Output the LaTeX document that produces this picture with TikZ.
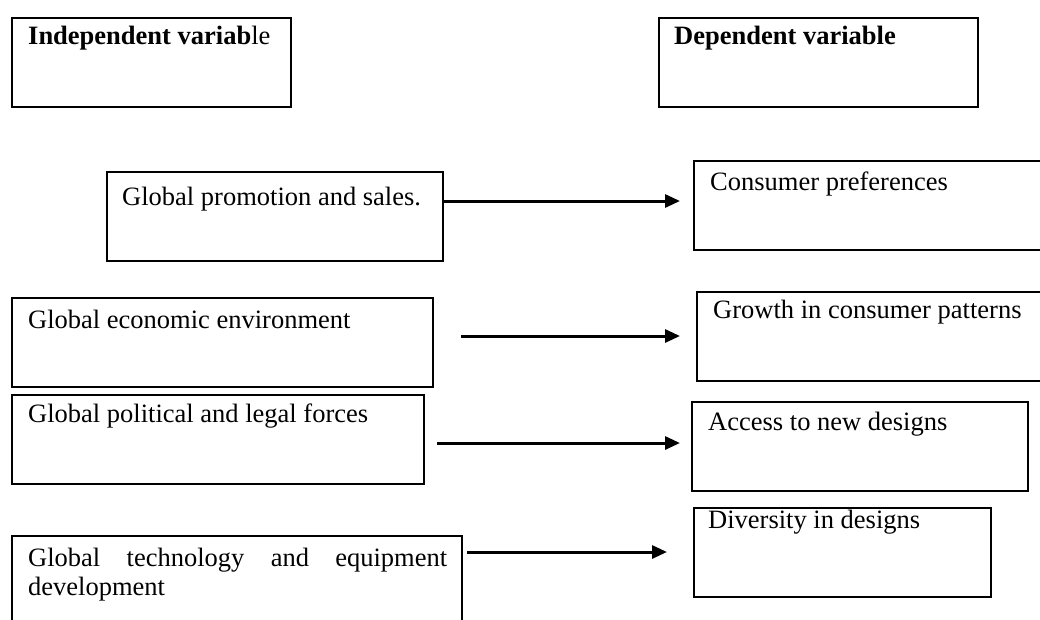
\documentclass[tikz,border=0pt]{standalone}
\usepackage{fontspec}
\setmainfont{Liberation Serif}
\usetikzlibrary{arrows.meta}
\begin{document}
\begin{tikzpicture}[x=1pt,y=-1pt,
  box/.style={draw=black, line width=2pt},
  lbl/.style={anchor=base west, inner sep=0pt, font=\fontsize{26.5}{30}\selectfont},
  conn/.style={line width=3pt, -{Triangle[length=15pt,width=13pt]}}]
\clip (0,0) rectangle (1040,619);
\fill[white] (0,0) rectangle (1040,619);
% boxes
\draw[box] (12,18) rectangle (291,107);
\draw[box] (659,18) rectangle (978,107);
\draw[box] (107,172) rectangle (443,261);
\draw[box] (694,161) rectangle (1045,250);
\draw[box] (12,298) rectangle (433,387);
\draw[box] (697,292) rectangle (1045,381);
\draw[box] (12,395) rectangle (424,484);
\draw[box] (692,402) rectangle (1028,491);
\draw[box] (12,640) -- (12,536) -- (462,536) -- (462,640);
\draw[box] (694,508) rectangle (991,597);
% labels
\node[lbl] (t1) at (28,44) {\textbf{Independent variab}le};
\node[lbl] (t2) at (674,44) {\textbf{Dependent variable}};
\node[lbl] (t3) at (122,205) {Global promotion and sales.};
\node[lbl] (t4) at (710,190) {Consumer preferences};
\node[lbl] (t5) at (28,328) {Global economic environment};
\node[lbl] (t6) at (713,318) {Growth in consumer patterns};
\node[lbl] (t7) at (28,422) {Global political and legal forces};
\node[lbl] (t8) at (708,430) {Access to new designs};
\node[lbl] (t9a) at (28,566) {\makebox[419pt][s]{Global technology and equipment}};
\node[lbl] (t9b) at (28,595) {development};
\node[lbl] (t10) at (708,528) {Diversity in designs};
% connectors
\coordinate (s1) at (443,201); \coordinate (e1) at (680,201);
\coordinate (s2) at (461,336); \coordinate (e2) at (680,336);
\coordinate (s3) at (437,443); \coordinate (e3) at (680,443);
\coordinate (s4) at (467,552); \coordinate (e4) at (667,552);
\draw[conn] (s1) -- (e1);
\draw[conn] (s2) -- (e2);
\draw[conn] (s3) -- (e3);
\draw[conn] (s4) -- (e4);
\end{tikzpicture}
\end{document}
